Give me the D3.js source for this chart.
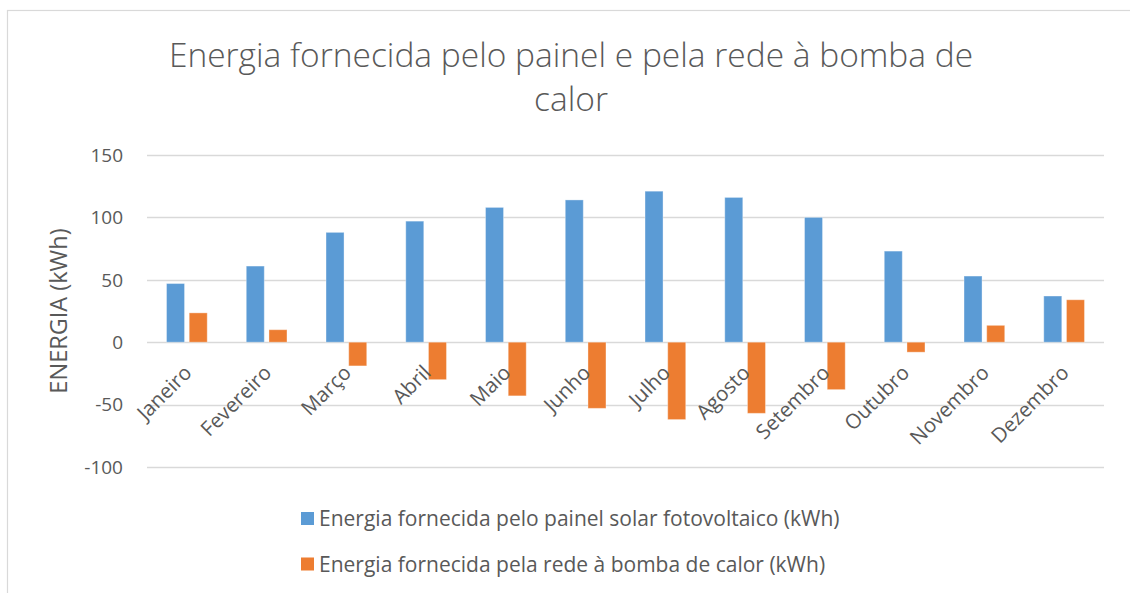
<!DOCTYPE html>
<html><head><meta charset="utf-8">
<script src="https://cdn.jsdelivr.net/npm/d3@7"></script>
<style>
html,body{margin:0;padding:0;background:#fff;}
svg{display:block;font-family:"Open Sans",Lato,sans-serif;}
</style></head>
<body>
<svg id="chart" width="1130" height="593"></svg>
<script>
const months = ["Janeiro","Fevereiro","Março","Abril","Maio","Junho","Julho","Agosto","Setembro","Outubro","Novembro","Dezembro"];
const painel = [47, 61, 88, 97, 108, 114, 121, 116, 100, 73, 53, 37];
const rede = [23.5, 10, -19, -30, -43, -53, -62, -57, -38, -8, 13.5, 34];
const seriesNames = ["Energia fornecida pelo painel solar fotovoltaico (kWh)", "Energia fornecida pela rede à bomba de calor (kWh)"];
const seriesColors = ["#5b9bd5", "#ed7d31"];
const yTicks = [150, 100, 50, 0, -50, -100];
const titleLines = ["Energia fornecida pelo painel e pela rede à bomba de", "calor"];
const yTitle = "ENERGIA (kWh)";

const svg = d3.select("#chart");
const plot = {left: 147, right: 1104, top: 155, bottom: 467};

svg.append("rect").attr("x", 7.5).attr("y", 10.5).attr("width", 1130).attr("height", 620)
  .attr("fill", "#fff").attr("stroke", "#d9d9d9").attr("stroke-width", 1.2);

const y = d3.scaleLinear().domain([-100, 150]).range([plot.bottom, plot.top]);
const x0 = d3.scaleBand().domain(months).range([plot.left, plot.right]).padding(0);
const x1 = d3.scaleBand().domain([0, 1]).range([0, x0.bandwidth()]).paddingInner(0.207).paddingOuter(0.86);

svg.append("g").selectAll("line").data(yTicks).join("line")
  .attr("x1", plot.left).attr("x2", plot.right)
  .attr("y1", d => Math.round(y(d)) + 0.5).attr("y2", d => Math.round(y(d)) + 0.5)
  .attr("stroke", "#d9d9d9").attr("stroke-width", 1.5);

svg.append("g").selectAll("text").data(yTicks).join("text")
  .attr("x", 123).attr("y", d => y(d)).attr("dy", "0.36em")
  .attr("text-anchor", "end").attr("font-size", 19).attr("fill", "#595959")
  .text(d => d);

const data = [painel, rede];
const gBars = svg.append("g");
data.forEach((vals, si) => {
  gBars.append("g").selectAll("rect").data(vals).join("rect")
    .attr("x", (d, i) => x0(months[i]) + x1(si))
    .attr("width", x1.bandwidth())
    .attr("y", d => y(Math.max(0, d)))
    .attr("height", d => Math.abs(y(d) - y(0)))
    .attr("fill", seriesColors[si])
    .attr("stroke", "#fff").attr("stroke-opacity", 0.35).attr("stroke-width", 1);
});

svg.append("g").selectAll("text").data(months).join("text")
  .attr("transform", d => `translate(${x0(d) + x0.bandwidth()/2 + 1},${369}) rotate(-45)`)
  .attr("text-anchor", "end").attr("dy", "0.35em")
  .attr("font-size", 20.5).attr("fill", "#595959")
  .text(d => d);

svg.append("text")
  .attr("transform", `translate(67,${311}) rotate(-90)`)
  .attr("text-anchor", "middle").attr("font-size", 23.5).attr("fill", "#595959")
  .text(yTitle);

svg.append("g").selectAll("text").data(titleLines).join("text")
  .attr("x", 571).attr("y", (d, i) => 67 + i * 44)
  .attr("text-anchor", "middle").attr("font-size", 33.5).attr("font-weight", 300).attr("fill", "#595959")
  .text(d => d);

const leg = svg.append("g");
seriesNames.forEach((name, i) => {
  const ly = 512 + i * 45.5;
  leg.append("rect").attr("x", 301).attr("y", ly).attr("width", 13).attr("height", 13).attr("fill", seriesColors[i]);
  leg.append("text").attr("x", 319).attr("y", ly + 14).attr("font-size", 21).attr("fill", "#595959").text(name);
});
</script>
</body></html>
